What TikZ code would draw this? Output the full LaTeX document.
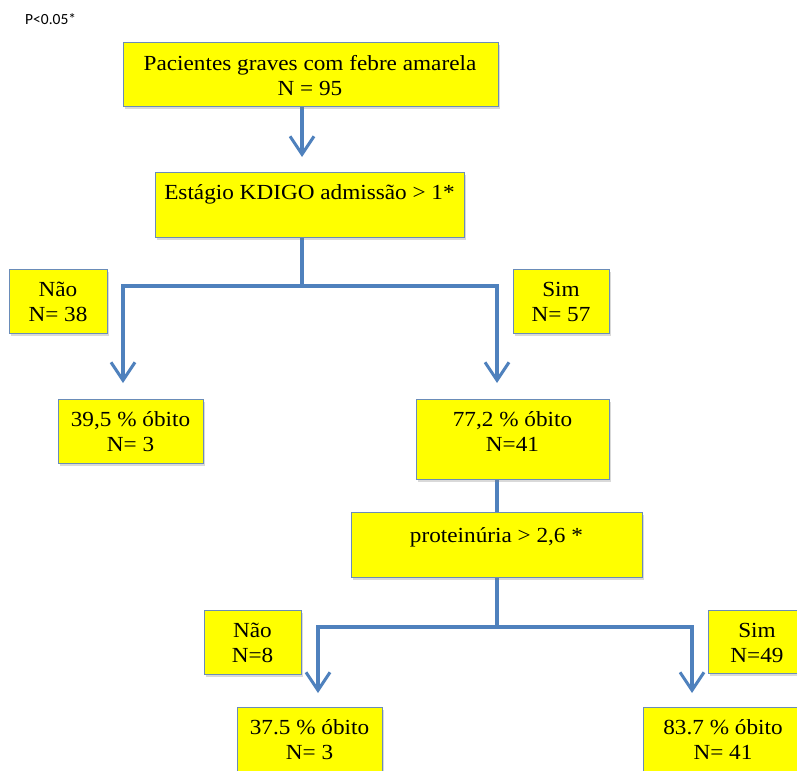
\documentclass[tikz,border=0pt]{standalone}
\usepackage{fontspec}
\setmainfont{Liberation Serif}[FakeStretch=1.08]
\newfontfamily\calfont{Carlito}
\usetikzlibrary{arrows.meta,shadows}
\definecolor{boxyellow}{HTML}{FFFF00}
\definecolor{boxedge}{HTML}{6A8CB8}
\definecolor{connblue}{HTML}{4F81BD}
\tikzset{
  box/.style={draw=boxedge, line width=0.9bp, fill=boxyellow, rectangle, inner sep=0pt,
    drop shadow={opacity=0.3, shadow xshift=2bp, shadow yshift=-3bp}},
  txt/.style={align=center, inner sep=0pt, font=\fontsize{21.5bp}{25bp}\selectfont},
  conn/.style={draw=connblue, line width=3.2bp},
  arr/.style={conn, -{Straight Barb[length=18bp,width=24bp,line width=3bp]}},
}
\newcommand{\boxat}[5]{% name, x1, y1, x2, y2
  \node[box, minimum width={(#4-#2)*1bp}, minimum height={(#5-#3)*1bp}] (#1) at ({(#2+#4)/2},{(#3+#5)/2}) {};}
\begin{document}
\begin{tikzpicture}[x=1bp,y=-1bp]
\useasboundingbox (0,0) rectangle (797,771);
\clip (0,0) rectangle (797,771);
% title
\node[anchor=west, inner sep=0pt, font=\calfont\fontsize{15.5bp}{18bp}\selectfont] (pval) at (25,19) {P<0.05*};

% coordinates for connectors
\coordinate (c1a) at (302,106);
\coordinate (c1b) at (302,157);
\coordinate (c2a) at (302,237);
\coordinate (c2m) at (302,286);
\coordinate (c2l) at (123,383);
\coordinate (c2r) at (497,383);
\coordinate (c3a) at (497,479);
\coordinate (c3b) at (497,512);
\coordinate (c4a) at (497,577);
\coordinate (c4m) at (497,627);
\coordinate (c4l) at (318,693);
\coordinate (c4r) at (692,693);

% connectors
\draw[arr] (c1a) -- (c1b);
\draw[conn] (c2a) -- (c2m);
\draw[arr] (c2m) -| (c2l);
\draw[arr] (c2m) -| (c2r);
\draw[conn] (c3a) -- (c3b);
\draw[conn] (c4a) -- (c4m);
\draw[arr] (c4m) -| (c4l);
\draw[arr] (c4m) -| (c4r);

% boxes
\boxat{b1}{123}{42}{498}{106}
\boxat{b2}{155}{172}{464}{237}
\boxat{na1}{9}{269}{107}{333}
\boxat{sim1}{513}{269}{609}{333}
\boxat{r1}{58}{399}{203}{463}
\boxat{r2}{416}{399}{609}{479}
\boxat{b3}{351}{512}{642}{577}
\boxat{na2}{204}{610}{301}{674}
\boxat{sim2}{708}{610}{806}{673}
\boxat{r3}{237}{707}{382}{772}
\boxat{r4}{643}{707}{803}{772}

% texts
\node[txt] (t1) at (310,76) {Pacientes graves com febre amarela\\N = 95};
\node[txt] (t2) at (309.5,194) {Estágio KDIGO admissão > 1*};
\node[txt] (t3) at (58,302) {Não\\N= 38};
\node[txt] (t4) at (561,302) {Sim\\N= 57};
\node[txt] (t5) at (130.5,432) {39,5 \% óbito\\N= 3};
\node[txt] (t6) at (512.5,432) {77,2 \% óbito\\N=41};
\node[txt] (t7) at (496.5,537) {proteinúria > 2,6 *};
\node[txt] (t8) at (252.5,643) {Não\\N=8};
\node[txt] (t9) at (757,643) {Sim\\N=49};
\node[txt] (t10) at (309.5,740) {37.5 \% óbito\\N= 3};
\node[txt] (t11) at (723,740) {83.7 \% óbito\\N= 41};
\end{tikzpicture}
\end{document}
